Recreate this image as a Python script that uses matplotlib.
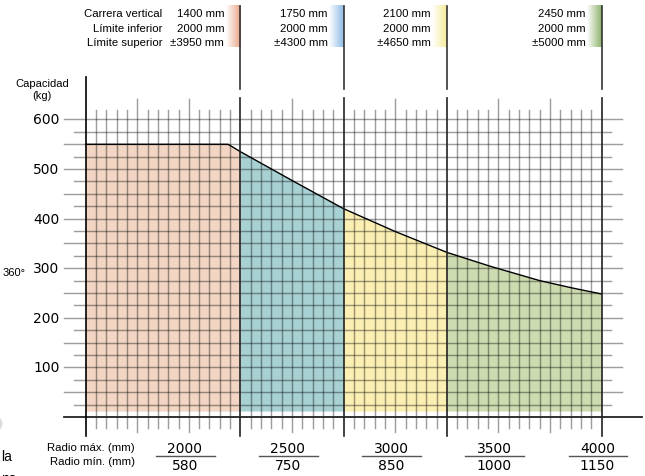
import matplotlib.pyplot as plt
import numpy as np
from matplotlib.patches import Ellipse

# Load chart data
radius_mm = [1500, 2190, 2250, 2500, 2750, 3000, 3250, 3460, 3700, 3860, 4000]
capacity_kg = [550, 550, 535, 477, 420, 374, 332, 304, 275, 260, 248]

region_edges = [1500, 2250, 2750, 3250, 4000]
region_fill = ['#f2d5c3', '#a8d1d3', '#fcefb3', '#cddbb0']
region_strip = ['#e9a284', '#8dbbe5', '#f6ec98', '#8cb26a']

header_rows = ['Carrera vertical', 'Límite inferior', 'Límite superior']
carrera = ['1400 mm', '1750 mm', '2100 mm', '2450 mm']
lim_inf = ['2000 mm', '2000 mm', '2000 mm', '2000 mm']
lim_sup = ['±3950 mm', '±4300 mm', '±4650 mm', '±5000 mm']

y_ticks = [100, 200, 300, 400, 500, 600]
radio_max = ['2000', '2500', '3000', '3500', '4000']
radio_min = ['580', '750', '850', '1000', '1150']
radio_pos = [2000, 2500, 3000, 3500, 4000]

sans = ['Liberation Sans', 'DejaVu Sans']

fig = plt.figure(figsize=(6.45, 4.77), dpi=100)
ax = fig.add_axes([0, 0, 1, 1])
ax.set_xlim(1085, 4210)
ax.set_ylim(-119, 843)
ax.axis('off')

x = np.array(radius_mm)
y = np.array(capacity_kg)

# coloured areas under the curve, one per region
for i in range(4):
    m = (x >= region_edges[i]) & (x <= region_edges[i + 1])
    ax.fill_between(x[m], 12, y[m], color=region_fill[i], lw=0, zorder=1)

# grid: vertical lines every 50 mm
for gx in range(1550, 4000, 50):
    if gx in region_edges:
        continue
    if gx % 250 == 0:
        ax.plot([gx, gx], [-30, 641], color='black', alpha=0.38, lw=1.05, zorder=2)
    else:
        ax.plot([gx, gx], [-22, 619], color='black', alpha=0.38, lw=1.05, zorder=2)

# grid: horizontal lines every 25 kg
for gy in range(25, 625, 25):
    if gy % 50 == 0:
        ax.plot([1395, 4098], [gy, gy], color='black', alpha=0.38, lw=1.05, zorder=2)
    else:
        ax.plot([1443, 4047], [gy, gy], color='black', alpha=0.38, lw=1.05, zorder=2)

# capacity curve
ax.plot(x, y, color='black', lw=1.0, zorder=3)

# axes and region boundaries
ax.plot([1395, 4197], [0, 0], color='#222222', lw=1.3, zorder=4)
ax.plot([1500, 1500], [-38, 685], color='black', lw=1.2, zorder=4)
for b in region_edges[1:]:
    ax.plot([b, b], [-38, 643], color='#222222', lw=1.2, zorder=4)
    ax.plot([b, b], [661, 829], color='#333333', lw=1.2, zorder=4)

# y tick labels
for t in y_ticks:
    ax.text(1373, t, str(t), ha='right', va='center', fontsize=10, family='DejaVu Sans')
ax.text(1288, 674, 'Capacidad', ha='center', va='center', fontsize=8, family=sans)
ax.text(1288, 649, '(kg)', ha='center', va='center', fontsize=8, family=sans)

# header with colour strips
rows_y = [814, 784, 757]
for r, ty in zip(header_rows, rows_y):
    ax.text(1870, ty, r, ha='right', va='center', fontsize=8.2, family=sans)
grad = np.linspace(0, 1, 64)
for i, b in enumerate(region_edges[1:]):
    c = np.array(plt.matplotlib.colors.to_rgb(region_strip[i]))
    img = np.ones((1, 64, 3)) * (1 - grad[None, :, None]) + c[None, None, :] * grad[None, :, None]
    ax.imshow(img, extent=[b - 72, b, 746, 829], aspect='auto', zorder=1, interpolation='bilinear')
    for lab, ty in zip([carrera[i], lim_inf[i], lim_sup[i]], rows_y):
        ax.text(b - 78, ty, lab, ha='right', va='center', fontsize=8.2, family=sans)

# bottom radius labels
ax.text(1739, -60, 'Radio máx. (mm)', ha='right', va='center', fontsize=8.2, family=sans)
ax.text(1739, -89, 'Radio mín. (mm)', ha='right', va='center', fontsize=8.2, family=sans)
for p, top, bot in zip(radio_pos, radio_max, radio_min):
    ax.text(p - 20, -62, top, ha='center', va='center', fontsize=10, family='DejaVu Sans')
    ax.text(p - 20, -97, bot, ha='center', va='center', fontsize=10, family='DejaVu Sans')
    ax.plot([p - 160, p + 125], [-79, -79], color='#555555', lw=1.0)

# cut-off bits from the neighbouring page
ax.text(1211, 292, '360°', ha='right', va='center', fontsize=8, family=sans)
ax.text(1089, -79, 'la', ha='left', va='center', fontsize=10, family=sans)
ax.text(1089, -109, 'na', ha='left', va='top', fontsize=10, family=sans)
ax.add_patch(Ellipse((1056, -14), 68, 28, facecolor='none', edgecolor='#dddddd', lw=2))

plt.savefig('out.png', dpi=100)
